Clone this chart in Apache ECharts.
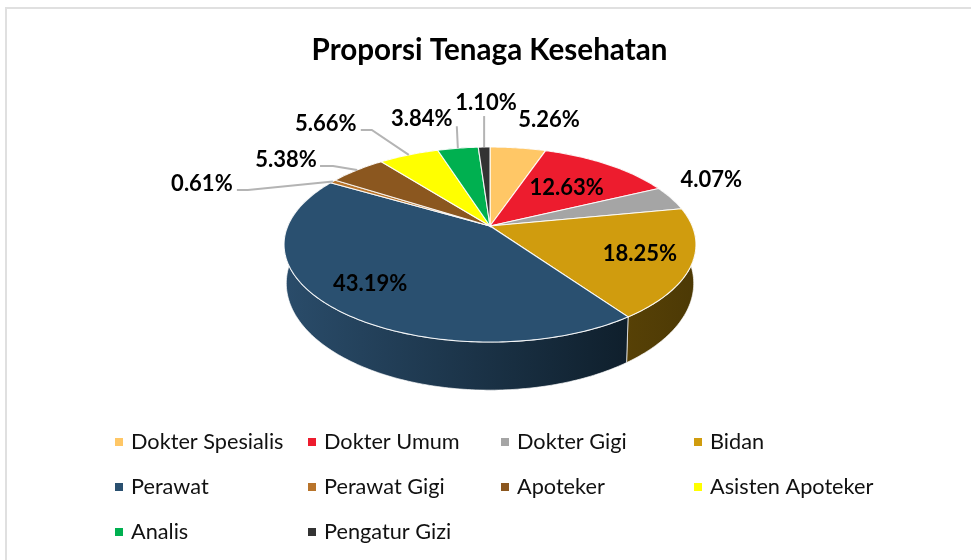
<!DOCTYPE html>
<html><head><meta charset="utf-8">
<style>html,body{margin:0;padding:0;background:#fff}#c{width:971px;height:560px}</style>
<script src="https://cdn.jsdelivr.net/npm/echarts@6/dist/echarts.min.js"></script>
</head><body><div id="c"></div>
<script>
// ---- data ----
const categories = ['Dokter Spesialis','Dokter Umum','Dokter Gigi','Bidan','Perawat','Perawat Gigi','Apoteker','Asisten Apoteker','Analis','Pengatur Gizi'];
const shares = [5.26,12.63,4.07,18.25,43.19,0.61,5.38,5.66,3.84,1.10];
const legendColumns = [
  ['Dokter Spesialis','Perawat','Analis'],
  ['Dokter Umum','Perawat Gigi','Pengatur Gizi'],
  ['Dokter Gigi','Apoteker'],
  ['Bidan','Asisten Apoteker']
];
// ---- style / layout ----
const colors = ['#FFC766','#ED1C2E','#A5A5A5','#D09C0E','#2A5070','#B8742B','#8B571F','#FFFF00','#00B050','#333333'];
const wallColors = [
  ['#7f6433','#7f6433'],['#760e17','#760e17'],['#525252','#525252'],['#574106','#4c3905'],
  ['#2a4c6a','#0f1f2c'],['#5c3a15','#5c3a15'],['#452b0f','#452b0f'],['#7f7f00','#7f7f00'],['#005828','#005828'],['#191919','#191919']
];
const labelOffset = [[31,-28],[-41,23.5],[40,-18],[-52,-10],[39,-23],[-131,2],[-71,-10],[-83,-31],[-36,-29],[2,-44]];
const leaderOffset = {5:[[-85,8.5],[-96,8.5]],6:[[-24,-4],[-37,-4]],7:[[-37,-25],[-48,-25]],8:[[-1,-21],[-2,-21]],9:[[0,-31]]};
const top3D = {cx:490, cy:226, R:202.2, H:94};
const base3D = {cx:490, cy:263, R:200, H:103};
const persp = 0.19;
const total = shares.reduce((a,b)=>a+b,0);
const startOf = i => shares.slice(0,i).reduce((a,b)=>a+b,0);

function project(frac, g){
  const a = frac/total*2*Math.PI, u = Math.sin(a), v = -Math.cos(a), s = 1/(1-persp*v);
  return [g.cx+g.R*u*s, g.cy+g.H*v*s];
}
function arc(from,to,g){
  const n = Math.max(2,Math.ceil((to-from)*4)), pts=[];
  for(let j=0;j<=n;j++) pts.push(project(from+(to-from)*j/n,g));
  return pts;
}
function renderSlice(i){
  return function(params,api){
    const sweep = api.value(0), st = startOf(i), en = st+sweep;
    const topArc = arc(st,en,top3D), baseArc = arc(st,en,base3D);
    const wall = topArc.concat(baseArc.slice().reverse());
    const xs = wall.map(p=>p[0]);
    const children = [{
      type:'polygon', z2:1, shape:{points:wall},
      style:{fill:{type:'linear',global:true,x:Math.min(...xs),y:0,x2:Math.max(...xs),y2:0,
        colorStops:[{offset:0,color:wallColors[i][0]},{offset:1,color:wallColors[i][1]}]},
        stroke:'rgba(255,255,255,0.85)',lineWidth:0.8}
    },{
      type:'polygon', z2:10, shape:{points:[[top3D.cx,top3D.cy]].concat(topArc)},
      style:{fill:colors[i],stroke:'rgba(255,255,255,0.9)',lineWidth:1.1}
    }];
    const rim = project(st+sweep/2,top3D);
    const off = labelOffset[i];
    children.push({type:'text',z2:30,x:rim[0]+off[0],y:rim[1]+off[1],
      style:{text:sweep.toFixed(2)+'%',fontFamily:'Lato',fontWeight:'bold',fontSize:22,fill:'#000',align:'center',verticalAlign:'middle'}});
    if(leaderOffset[i]){
      const pts=[rim].concat(leaderOffset[i].map(o=>[rim[0]+o[0],rim[1]+o[1]]));
      children.push({type:'polyline',z2:20,shape:{points:pts},style:{fill:null,stroke:'#b4b4b4',lineWidth:2}});
    }
    return {type:'group',children};
  };
}
const chart = echarts.init(document.getElementById('c'),null,{renderer:'canvas'});
const legendLeft=[115,308,501,694];
chart.setOption({
  animation:false,
  backgroundColor:'#fff',
  title:{text:'Proporsi Tenaga Kesehatan',top:30,itemGap:0,
    textStyle:{fontFamily:'Lato',fontWeight:'bold',fontSize:29.6,color:'#000'},
    textAlign:'center',left:484.5},
  graphic:[{type:'rect',silent:true,z:-10,shape:{x:6,y:8,width:1000,height:600},style:{fill:'#fff',stroke:'#e0e0e0',lineWidth:2}}],
  legend:legendColumns.map((col,i)=>({
    data:col,orient:'vertical',left:legendLeft[i],top:431,itemGap:23,itemWidth:8,itemHeight:8,icon:'rect',selectedMode:false,padding:0,
    textStyle:{fontFamily:'Lato',fontSize:21.7,color:'#111',padding:[0,0,0,3]}
  })),
  series:categories.map((name,i)=>({
    type:'custom',name,coordinateSystem:'none',silent:true,
    itemStyle:{color:colors[i]},
    data:[[shares[i]]],
    renderItem:renderSlice(i)
  }))
});
</script></body></html>
